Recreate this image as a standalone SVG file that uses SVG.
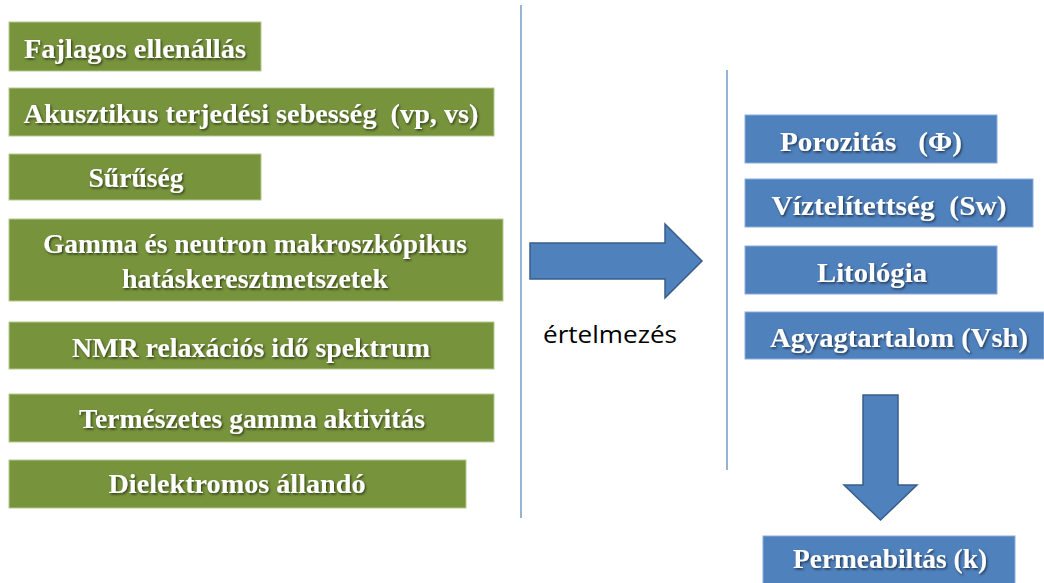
<svg xmlns="http://www.w3.org/2000/svg" width="1044" height="583" viewBox="0 0 1044 583">
<defs>
<filter id="sh" x="-5%" y="-30%" width="110%" height="160%">
<feDropShadow dx="1.2" dy="1.5" stdDeviation="0.9" flood-color="#000" flood-opacity="0.6"/>
</filter>
</defs>
<style>
.g{fill:#77933C;stroke:#b5c98e;stroke-width:1}
.b{fill:#4F81BD;stroke:#8eaadb;stroke-width:1}
.t{font-family:"Liberation Serif","DejaVu Serif",serif;font-weight:bold;font-size:27px;fill:#fff;text-anchor:middle;white-space:pre;filter:url(#sh)}
.arr{fill:#4F81BD;stroke:#385D8A;stroke-width:1.5;stroke-linejoin:miter}
.sep{stroke:#4F81BD;stroke-width:1.2}
.lbl{font-family:"Open Sans","Liberation Sans",sans-serif;font-size:23px;fill:#000;text-anchor:middle}
</style>
<rect width="1044" height="583" fill="#fff"/>
<g id="separators">
<line class="sep" x1="521" y1="5" x2="521" y2="518"/>
<line class="sep" x1="727" y1="70" x2="727" y2="470"/>
</g>
<g id="n1"><rect class="g" x="9" y="22" width="252" height="49"/><text class="t" x="135" y="58" textLength="222" lengthAdjust="spacingAndGlyphs">Fajlagos ellenállás</text></g>
<g id="n2"><rect class="g" x="9" y="88" width="485" height="48"/><text class="t" x="251" y="123" textLength="455" lengthAdjust="spacingAndGlyphs" xml:space="preserve">Akusztikus terjedési sebesség  (vp, vs)</text></g>
<g id="n3"><rect class="g" x="9" y="154" width="252" height="46"/><text class="t" x="136" y="187" textLength="95" lengthAdjust="spacingAndGlyphs">Sűrűség</text></g>
<g id="n4"><rect class="g" x="9" y="219" width="494" height="82"/><text class="t" x="255" y="253" textLength="424" lengthAdjust="spacingAndGlyphs">Gamma és neutron makroszkópikus</text><text class="t" x="255" y="288" textLength="266" lengthAdjust="spacingAndGlyphs">hatáskeresztmetszetek</text></g>
<g id="n5"><rect class="g" x="9" y="322" width="485" height="47"/><text class="t" x="251" y="357" textLength="358" lengthAdjust="spacingAndGlyphs">NMR relaxációs idő spektrum</text></g>
<g id="n6"><rect class="g" x="9" y="394" width="485" height="48"/><text class="t" x="252" y="428" textLength="346" lengthAdjust="spacingAndGlyphs">Természetes gamma aktivitás</text></g>
<g id="n7"><rect class="g" x="9" y="460" width="457" height="48"/><text class="t" x="237" y="493" textLength="257" lengthAdjust="spacingAndGlyphs">Dielektromos állandó</text></g>
<g id="r1"><rect class="b" x="745" y="115" width="252" height="48"/><text class="t" x="871" y="151" textLength="182" lengthAdjust="spacingAndGlyphs" xml:space="preserve">Porozitás   (Φ)</text></g>
<g id="r2"><rect class="b" x="745" y="179" width="288" height="48"/><text class="t" x="889" y="215" textLength="235" lengthAdjust="spacingAndGlyphs" xml:space="preserve">Víztelítettség  (Sw)</text></g>
<g id="r3"><rect class="b" x="745" y="246" width="252" height="48"/><text class="t" x="872" y="282" textLength="110" lengthAdjust="spacingAndGlyphs">Litológia</text></g>
<g id="r4"><rect class="b" x="745" y="312" width="299" height="47"/><text class="t" x="899" y="347" textLength="258" lengthAdjust="spacingAndGlyphs">Agyagtartalom (Vsh)</text></g>
<g id="r5"><rect class="b" x="763" y="536" width="252" height="48"/><text class="t" x="890" y="568" textLength="194" lengthAdjust="spacingAndGlyphs">Permeabiltás (k)</text></g>
<g id="connectors">
<polygon class="arr" points="530,243 665,243 665,224 702,261 665,298 665,279 530,279"/>
<polygon class="arr" points="863,395 898,395 898,485 917,485 880.5,520 844,485 863,485"/>
</g>
<g id="label"><text class="lbl" x="610" y="343" textLength="134" lengthAdjust="spacingAndGlyphs">értelmezés</text></g>
</svg>
